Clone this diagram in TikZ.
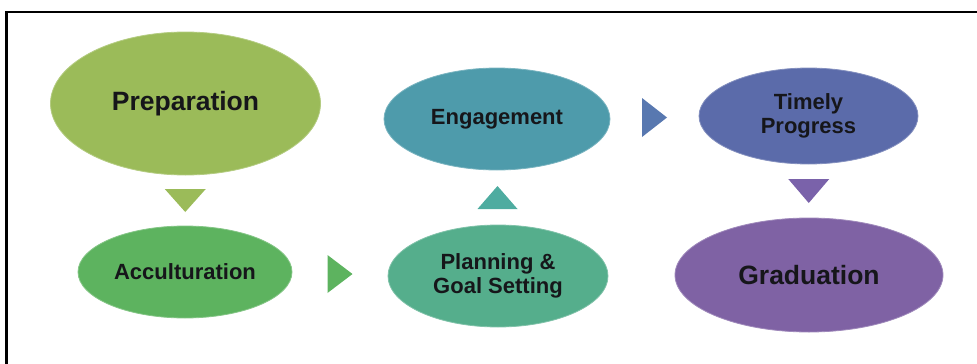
\documentclass[tikz,border=0pt]{standalone}
\usepackage{fontspec}
\setmainfont{Liberation Sans}
\usepackage{xcolor}
\usetikzlibrary{shapes,positioning,calc}

\definecolor{prepcol}{RGB}{155,187,89}
\definecolor{acccol}{RGB}{93,179,95}
\definecolor{plancol}{RGB}{85,174,140}
\definecolor{engcol}{RGB}{78,155,171}
\definecolor{timecol}{RGB}{91,107,170}
\definecolor{gradcol}{RGB}{127,98,164}
\definecolor{upcol}{RGB}{78,172,160}
\definecolor{rightcol}{RGB}{88,120,176}
\definecolor{downcol}{RGB}{122,98,170}
\definecolor{txtcol}{RGB}{22,22,26}

\begin{document}
\begin{tikzpicture}[x=1pt,y=-1pt,
  stage/.style={ellipse, inner sep=0pt, fill=#1, draw=#1!75!white, line width=0.8pt,
    text=txtcol, font=\bfseries\fontsize{22}{24}\selectfont, align=center},
  bigstage/.style={stage=#1, font=\bfseries\fontsize{26.5}{28}\selectfont}]
\useasboundingbox (0,0) rectangle (977,364);

% frame, cut off at right and bottom
\draw[line width=2.4pt] (6.5,364) -- (6.5,12) -- (977,12);

% stages
\node[bigstage=prepcol, minimum width=270pt, minimum height=143pt] (prep) at (185.5,103.5) {Preparation};
\node[stage=acccol, minimum width=214pt, minimum height=92pt] (accult) at (185,272) {Acculturation};
\node[stage=plancol, minimum width=220pt, minimum height=102pt] (plan) at (498,276) {Planning \&\\Goal Setting};
\node[stage=engcol, minimum width=226pt, minimum height=102pt] (engage) at (497,119) {Engagement};
\node[stage=timecol, minimum width=219pt, minimum height=96pt] (timely) at (808.5,116) {Timely\\Progress};
\node[bigstage=gradcol, minimum width=268pt, minimum height=114pt] (grad) at (809,275) {Graduation};

% triangles between the stages
\coordinate (d1) at ($(prep.south)!0.5!(accult.north)$);
\coordinate (r1) at ($(accult.east)!0.5!(plan.west)$);
\coordinate (u1) at ($(plan.north)!0.5!(engage.south)$);
\coordinate (r2) at ($(engage.east)!0.5!(timely.west)$);
\coordinate (d2) at ($(timely.south)!0.5!(grad.north)$);

\fill[prepcol] (d1) ++(-20.5,-11.5) -- ++(41,0) -- ++(-20.5,23) -- cycle;
\fill[acccol] (r1) ++(-12.5,-19) -- ++(25,19) -- ++(-25,19) -- cycle;
\fill[upcol] (u1) ++(-20,11.5) -- ++(40,0) -- ++(-20,-23) -- cycle;
\fill[rightcol] (r2) ++(-12.5,-19.5) -- ++(25,19.5) -- ++(-25,19.5) -- cycle;
\fill[downcol] (d2) ++(-20.5,-12) -- ++(41,0) -- ++(-20.5,24) -- cycle;
\end{tikzpicture}
\end{document}
